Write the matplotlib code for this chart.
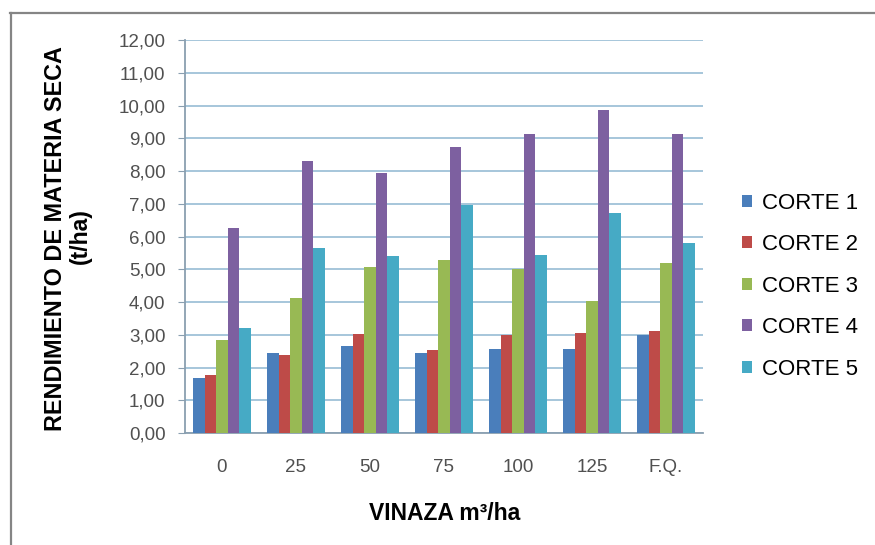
import matplotlib.pyplot as plt
import numpy as np
from matplotlib.lines import Line2D
from matplotlib.ticker import FuncFormatter

plt.rcParams["font.family"] = ["Liberation Sans", "DejaVu Sans"]

# Dry matter yield (t/ha) per vinasse dose, one list per cut
doses = ["0", "25", "50", "75", "100", "125", "F.Q."]
corte_1 = [1.68, 2.43, 2.67, 2.43, 2.57, 2.57, 2.99]
corte_2 = [1.77, 2.38, 3.03, 2.53, 2.99, 3.06, 3.11]
corte_3 = [2.84, 4.11, 5.07, 5.28, 5.00, 4.04, 5.20]
corte_4 = [6.27, 8.30, 7.94, 8.74, 9.14, 9.86, 9.14]
corte_5 = [3.22, 5.65, 5.40, 6.95, 5.43, 6.71, 5.79]
series_names = ["CORTE 1", "CORTE 2", "CORTE 3", "CORTE 4", "CORTE 5"]
colors = ["#4a7ebb", "#be4b48", "#98b954", "#7d60a0", "#46aac5"]

series = [corte_1, corte_2, corte_3, corte_4, corte_5]

fig = plt.figure(figsize=(8.75, 5.45), dpi=100)
ax = fig.add_axes([0.2114, 0.2055, 0.592, 0.7211])

x = np.arange(len(doses))
width = 0.155
for i, (vals, name, col) in enumerate(zip(series, series_names, colors)):
    ax.bar(x + (i - 2) * width, vals, width, color=col, label=name, zorder=3)

ax.set_xlim(-0.5, len(doses) - 0.5)
ax.set_ylim(0, 12)
ax.set_yticks(np.arange(0, 13, 1))
ax.yaxis.set_major_formatter(FuncFormatter(lambda v, _: f"{v:.2f}".replace(".", ",")))
ax.set_xticks(x)
ax.set_xticklabels(doses)

grid_col = "#9fc2d8"
axis_col = "#8a9fb0"
ax.grid(axis="y", color=grid_col, linewidth=1.3, zorder=0)
for side in ["top", "right"]:
    ax.spines[side].set_visible(False)
ax.spines["left"].set_color(axis_col)
ax.spines["bottom"].set_color(axis_col)
ax.spines["left"].set_linewidth(1.3)
ax.spines["bottom"].set_linewidth(1.3)
ax.tick_params(axis="y", direction="out", length=5, color=axis_col,
               labelsize=13.5, labelcolor="#505050", pad=9)
ax.tick_params(axis="x", length=0, labelsize=13.5, labelcolor="#505050", pad=19)

fig.text(0.064, 0.563, "RENDIMIENTO DE MATERIA SECA", rotation=90,
         ha="center", va="center", fontsize=16.8, fontweight="bold")
fig.text(0.092, 0.566, "(t/ha)", rotation=90,
         ha="center", va="center", fontsize=16.5, fontweight="bold")
fig.text(0.508, 0.058, "VINAZA m³/ha", ha="center", va="center",
         fontsize=16.5, fontweight="bold")

ax.legend(loc="center left", bbox_to_anchor=(0.838, 0.475),
          bbox_transform=fig.transFigure, frameon=False, fontsize=16,
          handlelength=0.45, handleheight=0.45, handletextpad=0.45,
          labelspacing=0.92, borderaxespad=0)

# partial outer frame along the top and left edges
fig.add_artist(Line2D([10 / 875, 1.0], [1 - 13 / 545, 1 - 13 / 545],
                      transform=fig.transFigure, color="#858585", lw=1.6))
fig.add_artist(Line2D([11 / 875, 11 / 875], [0.0, 1 - 13 / 545],
                      transform=fig.transFigure, color="#858585", lw=1.6))

fig.savefig("out.png", dpi=100)
